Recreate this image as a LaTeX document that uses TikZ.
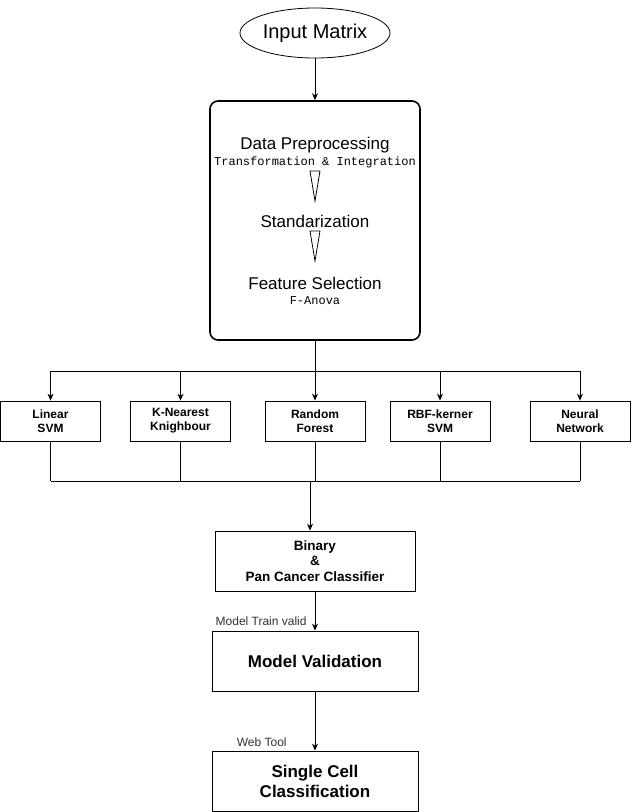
\documentclass[tikz,border=0pt]{standalone}
\usepackage{fontspec}
\setmainfont{Liberation Sans}
\setmonofont{Liberation Mono}
\usetikzlibrary{arrows.meta,shapes.geometric}
\begin{document}
\begin{tikzpicture}[x=1pt,y=-1pt,>={Stealth[length=7pt,width=6pt]},line width=0.8pt,
  model/.style={draw,minimum width=100pt,minimum height=40pt,inner sep=0pt,align=center,font=\fontsize{12}{14}\selectfont\bfseries},
  stage/.style={draw,minimum width=206pt,minimum height=60pt,inner sep=0pt,align=center,font=\fontsize{17}{20}\selectfont\bfseries},
  prepstep/.style={inner sep=0pt,font=\fontsize{17}{20}\selectfont},
  code/.style={inner sep=0pt,font=\fontsize{12}{14}\ttfamily},
  note/.style={font=\fontsize{12}{14}\selectfont,text=black!80,inner sep=0pt}]
\useasboundingbox (0,0) rectangle (632,812);

% Input matrix
\node[draw,ellipse,minimum width=150pt,minimum height=50pt,inner sep=0pt,font=\fontsize{20}{24}\selectfont] (input) at (315,33) {Input Matrix};

% Preprocessing box
\node[draw,rounded corners=8pt,line width=1.6pt,minimum width=210pt,minimum height=239pt] (prep) at (315,220.5) {};
\node[prepstep] (data) at (315,145) {Data Preprocessing};
\node[code] (trans) at (315,162) {Transformation \& Integration};
\draw (310,171) -- (320,171) -- (315,201) -- cycle;
\node[prepstep] (std) at (315,221) {Standarization};
\draw (310,231) -- (320,231) -- (315,261) -- cycle;
\node[prepstep] (feat) at (315,283) {Feature Selection};
\node[code] (anova) at (315,301) {F-Anova};
\draw [->] (input) -- (prep);

% Models
\node[model] (lsvm) at (50.5,421) {Linear\\SVM};
\node[model] (knn) at (180.5,421) {K-Nearest\\Knighbour};
\node[model] (rf) at (315,421) {Random\\Forest};
\node[model] (rbf) at (440,421) {RBF-kerner\\SVM};
\node[model] (nn) at (580,421) {Neural\\Network};

% top bus
\coordinate (top) at (315,371);
\draw (prep.south) -- (top);
\draw (lsvm.north |- top) -- (nn.north |- top);
\foreach \m in {lsvm,knn,rf,rbf,nn}
  \draw [->] (\m.north |- top) -- (\m.north);

% Classifiers
\node[stage,minimum width=200pt,font=\fontsize{13.5}{15.5}\selectfont\bfseries] (bin) at (315,561) {Binary\\\&\\Pan Cancer Classifier};
\node[stage] (val) at (315,661) {Model Validation};
\node[stage] (cell) at (315,781) {Single Cell\\Classification};

% bottom bus
\coordinate (bot) at (310,481);
\foreach \m in {lsvm,knn,rf,rbf,nn}
  \draw (\m.south) -- (\m.south |- bot);
\draw (lsvm.south |- bot) -- (nn.south |- bot);
\draw [->] (bot) -- (bot |- bin.north);

% Validation and tool
\draw [->] (bin) -- node[note,pos=0.75,left=8pt] (trainlbl) {Model Train valid} (val);
\draw [->] (val) -- node[note,pos=0.85,left=28pt] (weblbl) {Web Tool} (cell);
\end{tikzpicture}
\end{document}
